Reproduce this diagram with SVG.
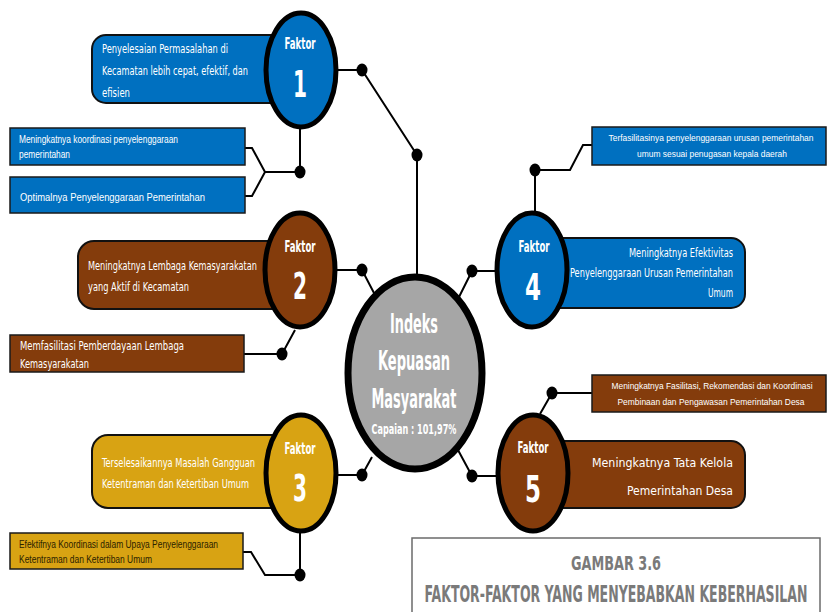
<svg xmlns="http://www.w3.org/2000/svg" width="827" height="612" viewBox="0 0 827 612">
<style>
.ln{stroke:#000;stroke-width:2;fill:none}
.dot{fill:#000}
.fc{stroke:#000;stroke-width:5}
.co{stroke:#111;stroke-width:2}
.bx{stroke:#1a1a1a;stroke-width:1.5}
.blue{fill:#0070C0}
.brown{fill:#843C0C}
.gold{fill:#D8A313}
.ft{font-family:"DejaVu Sans Condensed","DejaVu Sans",sans-serif;font-weight:bold;fill:#fff;text-anchor:middle}
.ct{font-family:"DejaVu Sans Condensed","DejaVu Sans",sans-serif;fill:#fff;font-size:13px}
.st{font-family:"Liberation Sans",Arial,sans-serif;fill:#fff;font-size:10px}
.sm{font-size:9px}
.dk{fill:#2b2200}
.cap{font-family:"DejaVu Sans Condensed","DejaVu Sans",sans-serif;font-weight:bold;fill:#7a7a7a;text-anchor:middle}
</style>
<rect width="827" height="612" fill="#fff"/>
<g id="connectors">
  <polyline class="ln" points="337,70 362,70 417,155 417,276"/>
  <polyline class="ln" points="300,128 300,172 265,172"/>
  <polyline class="ln" points="245,148 252,148 265,172 252,196 245,196"/>
  <polyline class="ln" points="335,270 362,270 374,293"/>
  <polyline class="ln" points="295,330 282,354 244,354"/>
  <polyline class="ln" points="337,475 362,475 372,457"/>
  <polyline class="ln" points="300,532 300,575 265,575 251,552 243,552"/>
  <polyline class="ln" points="498,271 472,271 459,297"/>
  <polyline class="ln" points="535,213 535,170 570,170 583,145 592,145"/>
  <polyline class="ln" points="497,476 472,476 458,450"/>
  <polyline class="ln" points="540,414 552,393 592,393"/>
  <ellipse class="dot" cx="362" cy="70" rx="5.5" ry="6.5"/>
  <ellipse class="dot" cx="417" cy="155" rx="5.5" ry="6.5"/>
  <ellipse class="dot" cx="300" cy="172" rx="5.5" ry="6.5"/>
  <ellipse class="dot" cx="362" cy="270" rx="5.5" ry="6.5"/>
  <ellipse class="dot" cx="282" cy="354" rx="5.5" ry="6.5"/>
  <ellipse class="dot" cx="362" cy="475" rx="5.5" ry="6.5"/>
  <ellipse class="dot" cx="300" cy="575" rx="5.5" ry="6.5"/>
  <ellipse class="dot" cx="472" cy="271" rx="5.5" ry="6.5"/>
  <ellipse class="dot" cx="535" cy="170" rx="5.5" ry="6.5"/>
  <ellipse class="dot" cx="472" cy="476" rx="5.5" ry="6.5"/>
  <ellipse class="dot" cx="552" cy="393" rx="5.5" ry="6.5"/>
</g>
<g id="center">
  <ellipse cx="415" cy="373" rx="67" ry="96" fill="#A6A6A6" stroke="#000" stroke-width="7"/>
  <text class="ft" x="414" y="333" font-size="27" textLength="48" lengthAdjust="spacingAndGlyphs">Indeks</text>
  <text class="ft" x="414" y="370" font-size="27" textLength="72" lengthAdjust="spacingAndGlyphs">Kepuasan</text>
  <text class="ft" x="414" y="408" font-size="27" textLength="85" lengthAdjust="spacingAndGlyphs">Masyarakat</text>
  <text class="ft" x="414" y="434" font-size="14" textLength="85" lengthAdjust="spacingAndGlyphs">Capaian : 101,97%</text>
</g>
<g id="faktor1">
  <rect class="blue co" x="92" y="35" width="208" height="68" rx="14"/>
  <text class="ct" x="102" y="53" textLength="126" lengthAdjust="spacingAndGlyphs">Penyelesaian Permasalahan di</text>
  <text class="ct" x="102" y="75" textLength="146" lengthAdjust="spacingAndGlyphs">Kecamatan lebih cepat, efektif, dan</text>
  <text class="ct" x="102" y="97" textLength="28" lengthAdjust="spacingAndGlyphs">efisien</text>
  <ellipse class="blue fc" cx="301" cy="70" rx="35" ry="57"/>
  <text class="ft" x="300" y="49" font-size="15" textLength="31" lengthAdjust="spacingAndGlyphs">Faktor</text>
  <text class="ft" x="300" y="97" font-size="38" textLength="14" lengthAdjust="spacingAndGlyphs">1</text>
</g>
<g id="box1a">
  <rect class="blue bx" x="10" y="128" width="235" height="37"/>
  <text class="st" x="19" y="143" textLength="159" lengthAdjust="spacingAndGlyphs">Meningkatnya koordinasi penyelenggaraan</text>
  <text class="st" x="19" y="158" textLength="51" lengthAdjust="spacingAndGlyphs">pemerintahan</text>
</g>
<g id="box1b">
  <rect class="blue bx" x="10" y="177" width="235" height="36"/>
  <text class="st" x="20" y="201" font-size="12" textLength="185" lengthAdjust="spacingAndGlyphs">Optimalnya Penyelenggaraan Pemerintahan</text>
</g>
<g id="faktor2">
  <rect class="brown co" x="78" y="241" width="222" height="68" rx="16"/>
  <text class="ct" x="88" y="270" textLength="169" lengthAdjust="spacingAndGlyphs">Meningkatnya Lembaga Kemasyarakatan</text>
  <text class="ct" x="88" y="291" textLength="101" lengthAdjust="spacingAndGlyphs">yang Aktif di Kecamatan</text>
  <ellipse class="brown fc" cx="300" cy="270" rx="35" ry="57"/>
  <text class="ft" x="300" y="252" font-size="15" textLength="31" lengthAdjust="spacingAndGlyphs">Faktor</text>
  <text class="ft" x="300" y="299" font-size="38" textLength="14" lengthAdjust="spacingAndGlyphs">2</text>
</g>
<g id="box2a">
  <rect class="brown bx" x="10" y="335" width="234" height="37"/>
  <text class="ct" x="20" y="350" font-size="11" textLength="164" lengthAdjust="spacingAndGlyphs">Memfasilitasi Pemberdayaan Lembaga</text>
  <text class="ct" x="20" y="368" font-size="11" textLength="69" lengthAdjust="spacingAndGlyphs">Kemasyarakatan</text>
</g>
<g id="faktor3">
  <rect class="gold co" x="92" y="435" width="208" height="73" rx="16"/>
  <text class="ct" x="102" y="467" textLength="153" lengthAdjust="spacingAndGlyphs">Terselesaikannya Masalah Gangguan</text>
  <text class="ct" x="102" y="488" textLength="147" lengthAdjust="spacingAndGlyphs">Ketentraman dan Ketertiban Umum</text>
  <ellipse class="gold fc" cx="301" cy="473" rx="35" ry="58"/>
  <text class="ft" x="300" y="454" font-size="15" textLength="31" lengthAdjust="spacingAndGlyphs">Faktor</text>
  <text class="ft" x="300" y="501" font-size="38" textLength="14" lengthAdjust="spacingAndGlyphs">3</text>
</g>
<g id="box3a">
  <rect class="gold bx" x="10" y="533" width="233" height="36"/>
  <text class="st dk" x="19" y="548" textLength="199" lengthAdjust="spacingAndGlyphs">Efektifnya Koordinasi dalam Upaya Penyelenggaraan</text>
  <text class="st dk" x="19" y="563" textLength="133" lengthAdjust="spacingAndGlyphs">Ketentraman  dan Ketertiban Umum</text>
</g>
<g id="faktor4">
  <rect class="blue co" x="532" y="238" width="213" height="70" rx="14"/>
  <text class="ct" x="733" y="257" text-anchor="end" textLength="104" lengthAdjust="spacingAndGlyphs">Meningkatnya Efektivitas</text>
  <text class="ct" x="733" y="277" text-anchor="end" textLength="163" lengthAdjust="spacingAndGlyphs">Penyelenggaraan Urusan Pemerintahan</text>
  <text class="ct" x="733" y="297" text-anchor="end" textLength="25" lengthAdjust="spacingAndGlyphs">Umum</text>
  <ellipse class="blue fc" cx="532" cy="270" rx="35" ry="57"/>
  <text class="ft" x="534" y="252" font-size="15" textLength="31" lengthAdjust="spacingAndGlyphs">Faktor</text>
  <text class="ft" x="533" y="300" font-size="38" textLength="16" lengthAdjust="spacingAndGlyphs">4</text>
</g>
<g id="box4a">
  <rect class="blue bx" x="592" y="127" width="234" height="38"/>
  <text class="st sm" x="711" y="141" text-anchor="middle" textLength="205" lengthAdjust="spacingAndGlyphs">Terfasilitasinya penyelenggaraan  urusan pemerintahan</text>
  <text class="st sm" x="712" y="157" text-anchor="middle" textLength="150" lengthAdjust="spacingAndGlyphs">umum sesuai penugasan kepala daerah</text>
</g>
<g id="faktor5">
  <rect class="brown co" x="533" y="441" width="212" height="67" rx="14"/>
  <text class="ct" x="733" y="467" font-size="16" text-anchor="end" textLength="141" lengthAdjust="spacingAndGlyphs">Meningkatnya Tata Kelola</text>
  <text class="ct" x="733" y="495" font-size="16" text-anchor="end" textLength="106" lengthAdjust="spacingAndGlyphs">Pemerintahan Desa</text>
  <ellipse class="brown fc" cx="533" cy="473" rx="35" ry="58"/>
  <text class="ft" x="533" y="453" font-size="15" textLength="31" lengthAdjust="spacingAndGlyphs">Faktor</text>
  <text class="ft" x="533" y="502" font-size="38" textLength="16" lengthAdjust="spacingAndGlyphs">5</text>
</g>
<g id="box5a">
  <rect class="brown bx" x="592" y="375" width="234" height="37"/>
  <text class="st sm" x="712" y="389" text-anchor="middle" textLength="201" lengthAdjust="spacingAndGlyphs">Meningkatnya Fasilitasi, Rekomendasi  dan Koordinasi</text>
  <text class="st sm" x="711" y="405" text-anchor="middle" textLength="187" lengthAdjust="spacingAndGlyphs">Pembinaan dan Pengawasan Pemerintahan Desa</text>
</g>
<g id="caption">
  <rect x="412" y="538" width="408" height="80" fill="#fff" stroke="#6b6b6b" stroke-width="1.5"/>
  <text class="cap" x="616" y="570" font-size="20" textLength="90" lengthAdjust="spacingAndGlyphs">GAMBAR 3.6</text>
  <text class="cap" x="616" y="602" font-size="23" textLength="383" lengthAdjust="spacingAndGlyphs">FAKTOR-FAKTOR YANG MENYEBABKAN KEBERHASILAN</text>
</g>
</svg>
